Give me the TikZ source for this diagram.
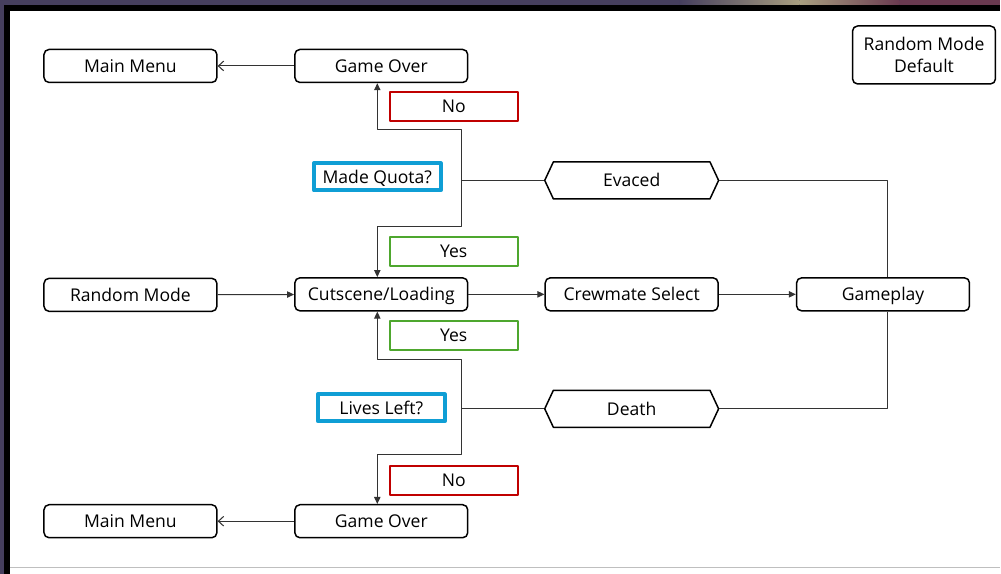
\documentclass[tikz,border=0pt]{standalone}
\usepackage{fontspec}
\setmainfont{Open Sans}
\usetikzlibrary{arrows.meta,shapes.symbols}
\definecolor{frameback}{HTML}{463F5E}
\definecolor{frameSand}{HTML}{A89E80}
\definecolor{frameWine}{HTML}{6A3A50}
\definecolor{noRed}{HTML}{C00000}
\definecolor{yesGreen}{HTML}{4EA72E}
\definecolor{askBlue}{HTML}{0F9ED5}
\begin{document}
\begin{tikzpicture}[x=0.02cm,y=-0.02cm,line join=round,
    font=\fontsize{10}{13}\selectfont,
    every node/.style={text height=7.2pt,text depth=0pt},
    screen/.style={rounded corners=0.1cm,draw,line width=0.85pt,minimum width=3.46cm,minimum height=0.66cm,inner sep=0pt},
    answer/.style={draw,line width=1.2pt,minimum width=2.56cm,minimum height=0.58cm,inner sep=0pt},
    ask/.style={draw=askBlue,line width=2.3pt,minimum width=2.54cm,minimum height=0.54cm,inner sep=0pt},
    outcome/.style={shape=signal,signal to=west and east,signal pointer angle=130,draw,line width=0.85pt,minimum width=3.48cm,minimum height=0.74cm,inner sep=0pt},
    link/.style={draw=black!80,line width=0.6pt},
    flow/.style={link,-{Triangle[length=4pt,width=3.6pt]}},
    back/.style={link,-{Straight Barb[length=3pt,width=5.5pt]}}]
  % window frame
  \fill[frameback] (0,0) rectangle (1001,574);
  \shade[left color=frameback,right color=frameSand] (680,0) rectangle (800,5);
  \shade[left color=frameSand,right color=frameWine] (800,0) rectangle (900,5);
  \fill[frameWine] (900,0) rectangle (1001,5);
  \fill[black] (4,5) rectangle (1001,574);
  \fill[white] (10,11) rectangle (1001,574);
  \draw[black!25,line width=0.6pt] (10,568) -- (1001,568);
  \useasboundingbox (0,0) rectangle (1001,574);
  % top row
  \node[screen] (mainTop) at (130.5,66) {Main Menu};
  \node[screen] (overTop) at (381.5,66) {Game Over};
  \node[screen,minimum width=2.86cm,minimum height=1.16cm,align=center,text height=,text depth=] (modeDefault) at (924.5,55) {Random Mode\\Default};
  \node[answer,draw=noRed] (noTop) at (454,106.5) {No};
  \node[ask] (quota) at (377.5,177) {Made Quota?};
  \node[outcome] (evaced) at (632,180.5) {Evaced};
  \node[answer,draw=yesGreen] (yesTop) at (454,251.5) {Yes};
  % middle row
  \node[screen] (randMode) at (130.5,295) {Random Mode};
  \node[screen] (cutscene) at (381.5,294.5) {Cutscene/Loading};
  \node[screen] (crewSel) at (632,294.5) {Crewmate Select};
  \node[screen] (gameplay) at (883.5,294.5) {Gameplay};
  % bottom row
  \node[answer,draw=yesGreen] (yesBot) at (454,335.5) {Yes};
  \node[ask] (lives) at (381.5,408) {Lives Left?};
  \node[outcome] (death) at (632,409) {Death};
  \node[answer,draw=noRed] (noBot) at (454,480.5) {No};
  \node[screen] (overBot) at (381.5,521.5) {Game Over};
  \node[screen] (mainBot) at (130.5,521.5) {Main Menu};
  % connectors
  \draw[flow] (randMode) -- (cutscene);
  \draw[flow] (cutscene) -- (crewSel);
  \draw[flow] (crewSel) -- (gameplay);
  \draw[back] (overTop) -- (mainTop);
  \draw[back] (overBot) -- (mainBot);
  \draw[link] (evaced.east) -| ([xshift=0.09cm]gameplay.north);
  \draw[link] (death.east) -| ([xshift=0.09cm]gameplay.south);
  \coordinate (quotaJoin) at (462,180.5);
  \coordinate (livesJoin) at (462,409);
  \draw[link] (evaced.west) -- (quotaJoin);
  \draw[link] (death.west) -- (livesJoin);
  \draw[flow] (quotaJoin) -- ++(0,-50.5) -| ([xshift=-0.08cm]overTop.south);
  \draw[flow] (quotaJoin) -- ++(0,46.5) -| ([xshift=-0.08cm]cutscene.north);
  \draw[flow] (livesJoin) -- ++(0,-49) -| ([xshift=-0.08cm]cutscene.south);
  \draw[flow] (livesJoin) -- ++(0,46) -| ([xshift=-0.08cm]overBot.north);
\end{tikzpicture}
\end{document}
